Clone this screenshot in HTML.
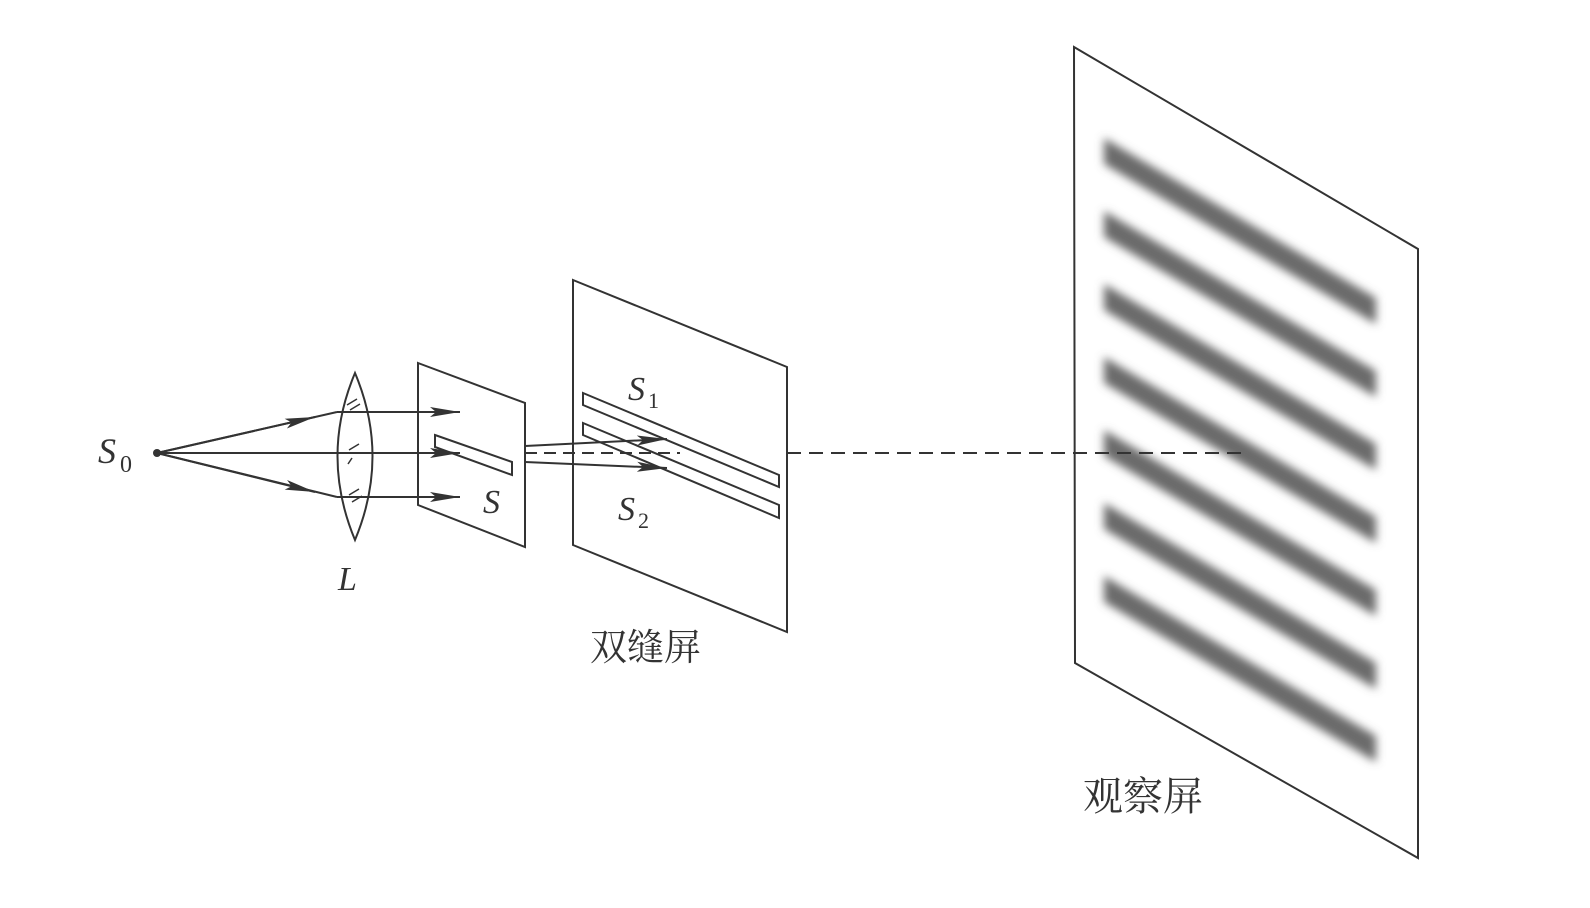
<!DOCTYPE html>
<html><head><meta charset="utf-8"><style>
html,body{margin:0;padding:0;background:#fff;}
svg{display:block;}
.it{font-family:"Liberation Serif",serif;font-style:italic;fill:#333;}
.sub{font-family:"Liberation Serif",serif;fill:#333;}
.cn{font-family:"Liberation Serif","Noto Serif CJK SC",serif;fill:#333;}
</style></head><body>
<svg width="1590" height="908" viewBox="0 0 1590 908" xmlns="http://www.w3.org/2000/svg">
<defs>
<filter id="bl" x="-10%" y="-50%" width="120%" height="200%"><feGaussianBlur stdDeviation="4.5"/></filter>
<marker id="ar" markerWidth="30" markerHeight="12" refX="30" refY="6" orient="auto" markerUnits="userSpaceOnUse">
<path d="M0,1 L30,6 L0,11 L6,6 Z" fill="#333"/></marker>
</defs>
<g stroke="#333" fill="none" stroke-width="2">
<!-- big screen -->
<polygon points="1074,47 1418,249 1418,858 1075,663" stroke-width="2"/>
</g>
<g filter="url(#bl)" fill="#6a6a6a">
<polygon points="1104,138 1376,298 1376,324 1104,164"/>
<polygon points="1104,211 1376,371 1376,397 1104,237"/>
<polygon points="1104,284 1376,444 1376,470 1104,310"/>
<polygon points="1104,357 1376,517 1376,543 1104,383"/>
<polygon points="1104,430 1376,590 1376,616 1104,456"/>
<polygon points="1104,503 1376,663 1376,689 1104,529"/>
<polygon points="1104,576 1376,736 1376,762 1104,602"/>
</g>
<g stroke="#333" fill="none" stroke-width="2">
<!-- axis dashed -->
<line x1="787" y1="453" x2="1242" y2="453" stroke-dasharray="14,8"/>
<!-- double slit screen -->
<polygon points="573,280 787,367 787,632 573,545" fill="#fff"/>
<polygon points="583,393 779,475 779,487 583,405"/>
<polygon points="583,423 779,505 779,518 583,435"/>
<!-- rays to double slit -->
<line x1="525" y1="446" x2="667" y2="439" marker-end="url(#ar)"/>
<line x1="525" y1="462" x2="667" y2="468" marker-end="url(#ar)"/>
<line x1="525" y1="453" x2="680" y2="453" stroke-dasharray="12,7"/>
<!-- S screen -->
<polygon points="418,363 525,403 525,547 418,505" fill="#fff"/>
<polygon points="435,435 512,462 512,475 435,447"/>
<!-- rays from S0 -->
<line x1="157" y1="453" x2="337" y2="412"/>
<line x1="157" y1="453" x2="337" y2="497"/>
<line x1="157" y1="453" x2="315" y2="417" marker-end="url(#ar)"/>
<line x1="157" y1="453" x2="315" y2="492" marker-end="url(#ar)"/>
<line x1="337" y1="412" x2="460" y2="412" marker-end="url(#ar)"/>
<line x1="157" y1="453" x2="460" y2="453" marker-end="url(#ar)"/>
<line x1="337" y1="497" x2="460" y2="497" marker-end="url(#ar)"/>
<!-- lens -->
<path d="M355,373 Q320,456 355,540 Q390,456 355,373 Z"/>
<path d="M347,405 l10,-6 M350,410 l10,-6 M349,450 l10,-6 M352,458 l-4,6 M349,495 l10,-6 M352,502 l10,-6" stroke-width="1.5"/>
</g>
<circle cx="157" cy="453" r="4" fill="#333"/>
<text class="it" x="98" y="463" font-size="36">S</text>
<text class="sub" x="120" y="472" font-size="24">0</text>
<text class="it" x="338" y="590" font-size="34">L</text>
<text class="it" x="483" y="513" font-size="34">S</text>
<text class="it" x="628" y="400" font-size="34">S</text>
<text class="sub" x="648" y="408" font-size="22">1</text>
<text class="it" x="618" y="520" font-size="34">S</text>
<text class="sub" x="638" y="528" font-size="22">2</text>
<text class="cn" x="590" y="660" font-size="37">双缝屏</text>
<text class="cn" x="1083" y="810" font-size="40">观察屏</text>
</svg>
</body></html>
